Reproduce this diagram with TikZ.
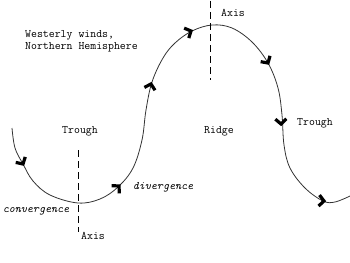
\documentclass[tikz,border=0pt]{standalone}
\begin{document}
\begin{tikzpicture}[x=1pt,y=-1pt,
  curve/.style={line width=0.8pt,draw=black!80},
  axisline/.style={line width=0.8pt,draw=black,dash pattern=on 7pt off 4pt},
  chevst/.style={line width=3.2pt,line join=miter,line cap=butt},
  lbl/.style={font=\fontsize{11.5}{12}\ttfamily,inner sep=0pt},
  ilbl/.style={lbl,font=\fontsize{11.5}{12}\ttfamily\itshape}]
\useasboundingbox (0,0) rectangle (350,262);
\newcommand\chev[3]{\draw[chevst,shift={(#1,#2)},rotate=#3] (-5,-5.5) -- (0,0) -- (-5,5.5);}
\draw[curve] plot[smooth,tension=0.6] coordinates {
 (12,128) (15,148) (23,164) (33,181) (50,195) (78,203) (100,199) (118,187)
 (133,168) (142,140) (146,110) (152,82) (163,58) (175,43) (192,31) (212,25)
 (232,28) (252,42) (268,63) (278,88) (282,115) (284,145) (290,168) (305,188)
 (323,201) (335,202) (350,196)};
\chev{23}{164}{-60}
\chev{119}{186}{45}
\chev{151}{84}{75}
\chev{191}{31}{25}
\chev{268}{63}{-58}
\chev{281}{124}{-88}
\chev{324}{201}{-5}
\coordinate (ta) at (210,1);
\coordinate (tb) at (210,80);
\coordinate (ba) at (78,150);
\coordinate (bb) at (78,232);
\draw[axisline] (ta) -- (tb);
\draw[axisline] (ba) -- (bb);
\node[lbl,anchor=west,align=left] (title) at (25,41) {Westerly winds,\\Northern Hemisphere};
\node[lbl] (troughl) at (80,131) {Trough};
\node[lbl] (ridge) at (219,131) {Ridge};
\node[lbl] (troughr) at (315,123) {Trough};
\node[ilbl] (div) at (163,187) {divergence};
\node[ilbl] (conv) at (36,211) {convergence};
\node[lbl] (axisb) at (93,236) {Axis};
\node[lbl] (axist) at (233,13) {Axis};
\end{tikzpicture}
\end{document}
